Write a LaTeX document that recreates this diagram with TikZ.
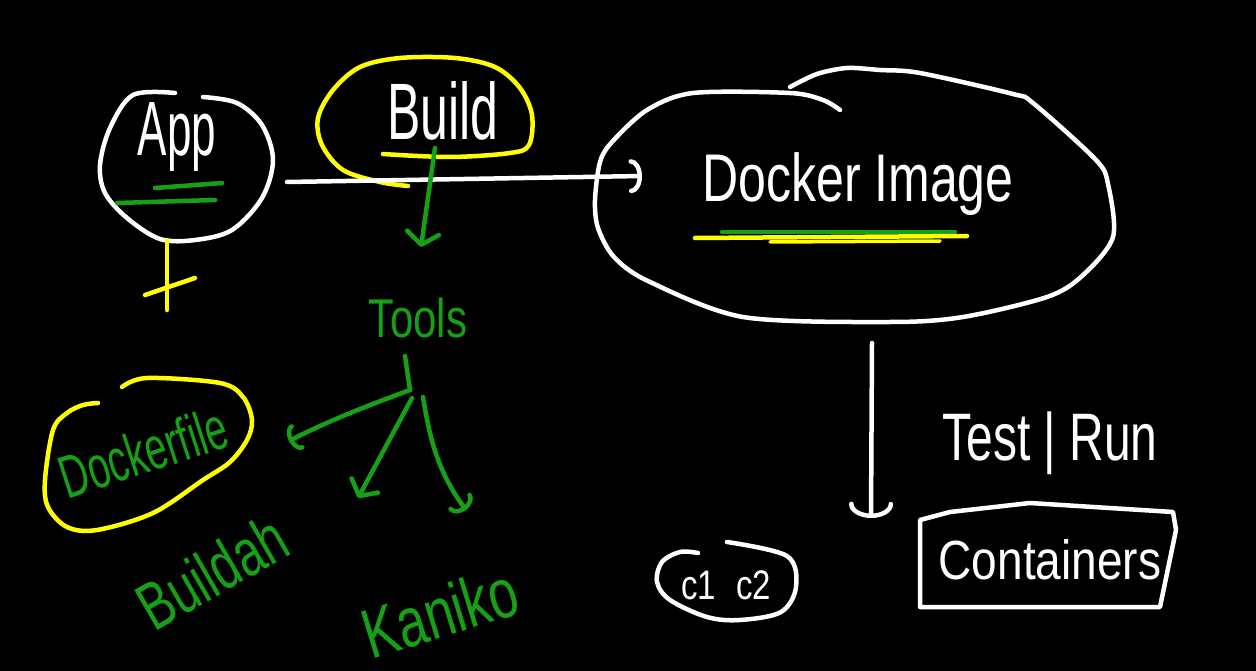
\documentclass[tikz,border=0pt]{standalone}
\usepackage{fontspec}
\setmainfont{Liberation Sans}
\usetikzlibrary{arrows.meta}
\definecolor{hwgreen}{RGB}{22,160,22}
\definecolor{hwyellow}{RGB}{255,255,0}
\newcommand\hwfs[1]{\fontsize{#1}{#1}\selectfont}
\begin{document}
\begin{tikzpicture}[x=1pt,y=-1pt,
  stroke/.style={line width=4.5pt,line cap=round,line join=round},
  wline/.style={stroke,draw=white},
  yline/.style={stroke,draw=hwyellow},
  gline/.style={stroke,draw=hwgreen},
  wtext/.style={inner sep=0pt,text=white},
  gtext/.style={inner sep=0pt,text=hwgreen},
  sketch/.style={smooth,tension=0.55}
]
\fill[black] (0,0) rectangle (1256,671);
\useasboundingbox (0,0) rectangle (1256,671);

% ---- App ----
\draw[wline] plot[sketch] coordinates {(203,97) (237,103) (262,125) (273,160) (262,198) (232,230) (195,240) (160,239) (127,218) (105,193) (100,165) (110,128) (133,95) (175,93)};
\path (177,137) node[wtext,font=\hwfs{44},yscale=1.75] (app) {App};
\draw[gline] (155,188) -- (222,183);
\draw[gline] (117,203) -- (215,200);
\coordinate (appbot) at (167,240);
\coordinate (appstem) at (167,310);
\draw[yline] (appbot) -- (appstem);
\draw[yline] (145,295) -- (195,278);

% ---- Build ----
\draw[yline] plot[sketch] coordinates {(383,154) (450,157) (510,153) (529,145) (532,115) (520,88) (495,67) (455,58) (400,58) (360,67) (333,90) (318,118) (322,145) (343,170) (380,182) (408,186)};
\path (443,111) node[wtext,font=\hwfs{50},yscale=1.6] (build) {Build};

% ---- main arrow ----
\coordinate (arrS) at (287,182);
\coordinate (arrE) at (642,176);
\draw[wline,-{Arc Barb[length=11pt,width=34pt,round]}] (arrS) -- (arrE);

% ---- Docker Image ----
\draw[wline] plot[smooth,tension=0.5] coordinates {(840,110) (823,100) (790,93) (693,93) (647,110) (612,142) (600,162) (595,200) (598,228) (614,257) (648,281) (743,317) (890,322) (963,317) (1047,297) (1082,276) (1113,237) (1108,184) (1096,160) (1033,103) (1013,94) (920,73) (880,70) (847,68) (817,74) (790,87)};
\path (858,184) node[wtext,font=\hwfs{50},yscale=1.35] (dimg) {Docker Image};
\draw[gline] (722,232) -- (955,232);
\draw[yline] (695,238) -- (967,236);
\draw[yline,line width=3.5pt] (770,242) -- (940,241);

% ---- down arrow ----
\coordinate (dS) at (872,343);
\coordinate (dE) at (871,518);
\draw[wline,-{Arc Barb[length=14pt,width=44pt,round]}] (dS) -- (dE);
\path (1050,443) node[wtext,font=\hwfs{48},yscale=1.4] (test) {Test | Run};

% ---- Containers ----
\draw[wline] (920,520) -- (950,512) -- (1030,503) -- (1173,512) -- (1176,530) -- (1160,607) -- (920,607) -- cycle;
\path (1050,560) node[wtext,font=\hwfs{46},yscale=1.2] (cont) {Containers};

% ---- c1 c2 ----
\draw[wline] plot[sketch] coordinates {(727,542) (787,556) (796,587) (781,612) (740,620) (707,617) (670,600) (657,582) (662,562) (680,552) (698,553)};
\path (726,585) node[wtext,font=\hwfs{33},yscale=1.25] (cc) {c1\hspace{20pt}c2};

% ---- Tools ----
\path (418,318) node[gtext,font=\hwfs{42},yscale=1.3] (tools) {Tools};
\coordinate (bS) at (435,148);
\coordinate (bE) at (421,247);
\draw[gline,-{Straight Barb[length=12pt,width=32pt,round]}] (bS) -- (bE);
\coordinate (tS) at (405,356);
\coordinate (tJ) at (410,390);
\coordinate (jB) at (412,398);
\coordinate (jK) at (423,397);
\coordinate (eD) at (289,441);
\coordinate (eB) at (358,498);
\coordinate (eK) at (466,510);
\draw[gline] (tS) -- (tJ);
\draw[gline,-{Arc Barb[length=9pt,width=28pt,round]}] (tJ) .. controls (372,404) and (330,420) .. (eD);
\draw[gline,-{Straight Barb[length=12pt,width=30pt,round]}] (jB) -- (eB);
\draw[gline,-{Arc Barb[length=10pt,width=28pt,round]}] (jK) .. controls (430,440) and (438,472) .. (eK);

% ---- Dockerfile / Buildah / Kaniko ----
\draw[yline] plot[sketch] coordinates {(122,387) (147,378) (220,383) (243,397) (252,420) (247,440) (230,462) (203,480) (153,513) (97,530) (67,527) (48,507) (45,480) (53,430) (67,413) (83,405) (98,403)};
\path (143,452) node[gtext,font=\hwfs{39},rotate=18,yscale=1.55] (dfile) {Dockerfile};
\path (212,572) node[gtext,font=\hwfs{48},rotate=30,yscale=1.4] (buildah) {Buildah};
\path (440,612) node[gtext,font=\hwfs{52},rotate=17,yscale=1.35] (kaniko) {Kaniko};
\end{tikzpicture}
\end{document}
